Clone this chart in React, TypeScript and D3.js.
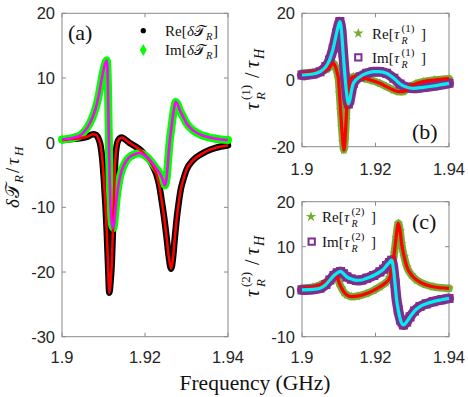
import React from 'react';
import * as d3 from 'd3';

// ---------- Data ----------
const xTicks = [1.9, 1.92, 1.94];
const aYTicks = [-30, -20, -10, 0, 10, 20];
const bYTicks = [-20, 0, 20];
const cYTicks = [-10, 0, 10, 20];

// Panel (a)  Re[δT_R]
const aReFreq = [1.9, 1.903, 1.906, 1.9075, 1.9082, 1.9088, 1.9093, 1.9097, 1.9101, 1.9105, 1.9108, 1.9111, 1.9114,
  1.9117, 1.912, 1.9124, 1.9128, 1.9133, 1.9138, 1.9144, 1.9152, 1.916, 1.9172, 1.919, 1.9204, 1.9212, 1.922, 1.9228,
  1.9234, 1.924, 1.9246, 1.9252, 1.9257, 1.9263, 1.9268, 1.9272, 1.9276, 1.928, 1.9286, 1.9292, 1.93, 1.9316, 1.9335,
  1.9349, 1.937, 1.94];
const aReVal = [0.4, 0.6, 0.9, 1.3, 1.2, 0.6, -0.5, -2.5, -5.8, -10, -14, -19, -23.2,
  -21.5, -18.6, -10.9, -3.2, -0.1, 0.6, 0.8, 0.5, 0.1, -0.4, -1.2, -2.2, -2.8, -3.8, -5.0,
  -6.5, -8.9, -11.5, -14.6, -17.5, -19.5, -17.5, -14.6, -12, -9.9, -7.3, -5.8, -4.2, -2.7, -1.8,
  -1.3, -0.8, -0.4];
// Panel (a)  Im[δT_R]
const aImFreq = [1.9, 1.903, 1.9043, 1.9055, 1.9067, 1.9077, 1.9084, 1.909, 1.9095, 1.9101, 1.9108, 1.9111, 1.9113,
  1.9115, 1.9117, 1.912, 1.9124, 1.9128, 1.9132, 1.9138, 1.9144, 1.9153, 1.9163, 1.9175, 1.9187, 1.92, 1.9212, 1.9225,
  1.9236, 1.9243, 1.9248, 1.9252, 1.9256, 1.9259, 1.9263, 1.9267, 1.9271, 1.9274, 1.9278, 1.9284, 1.9292, 1.93, 1.9316,
  1.9335, 1.9349, 1.937, 1.94];
const aImVal = [0.5, 0.8, 1.1, 1.8, 3.0, 4.5, 6.0, 7.8, 9.6, 11.5, 12.7, 8, 0,
  -6, -10, -12.5, -13.2, -11, -8.4, -5.8, -4.3, -3.0, -2.2, -1.8, -1.6, -2.0, -2.7, -3.8,
  -4.8, -5.7, -6.6, -5.5, -2.5, -0.1, 2.0, 4.0, 5.6, 6.3, 6.0, 5.0, 4.0, 3.0, 1.9,
  1.2, 0.9, 0.6, 0.4];

// Panel (b)  Re[τ_R^(1)]
const bReFreq = [1.9, 1.903, 1.9049, 1.9067, 1.9078, 1.9085, 1.9091, 1.9096, 1.9099, 1.9102, 1.9105, 1.9108, 1.9111,
  1.9114, 1.9117, 1.912, 1.9123, 1.9127, 1.9132, 1.914, 1.915, 1.9176, 1.9195, 1.9212, 1.923, 1.9249, 1.9265, 1.9276,
  1.9285, 1.9294, 1.931, 1.933, 1.936, 1.94];
const bReVal = [2.0, 2.3, 2.6, 3.2, 4.2, 5.0, 4.0, 2.0, 0.5, -4, -9, -14, -18.5,
  -21, -18, -12, -6, -2, 0.3, 1.0, 0.9, 0.3, -0.3, -1.0, -2.0, -3.0, -3.5, -3.5,
  -2.8, -2.0, -1.1, -0.5, 0.0, 0.4];
// Panel (b)  Im[τ_R^(1)]
const bImFreq = [1.9, 1.903, 1.9049, 1.9065, 1.9075, 1.9085, 1.9094, 1.9103, 1.9108, 1.9112, 1.9117, 1.9122, 1.9126,
  1.913, 1.9135, 1.914, 1.9158, 1.9176, 1.9194, 1.921, 1.923, 1.925, 1.9267, 1.9285, 1.9303, 1.933, 1.9357, 1.94];
const bImVal = [1.5, 1.8, 2.5, 4.0, 6.0, 9.5, 14, 17.5, 14, 8, 1, -4.5, -7.2,
  -6, -3, -1, 1.0, 2.0, 2.5, 2.5, 2.0, 0.5, -1.2, -2.2, -2.5, -2.2, -1.8, -1.0];

// Panel (c)  Re[τ_R^(2)]
const cReFreq = [1.9, 1.903, 1.9049, 1.9065, 1.9076, 1.9085, 1.9091, 1.9096, 1.9101, 1.9108, 1.9115, 1.9122, 1.9135,
  1.915, 1.9176, 1.9195, 1.9212, 1.9228, 1.9238, 1.9245, 1.9251, 1.9256, 1.9262, 1.9267, 1.9271, 1.9278, 1.9285, 1.9298,
  1.9312, 1.9335, 1.9357, 1.94];
const cReVal = [0.75, 1.0, 1.5, 2.1, 2.7, 3.5, 3.8, 3.2, 2.0, 0.75, -0.2, -0.7, -1.1,
  -1.0, -0.4, 0.3, 1.1, 2.0, 3.0, 5.0, 8.5, 12, 15.2, 13.5, 10.7, 7.8, 5.6, 3.7,
  2.6, 1.6, 1.1, 0.75];
// Panel (c)  Im[τ_R^(2)]
const cImFreq = [1.9, 1.903, 1.9049, 1.9065, 1.9076, 1.9087, 1.9096, 1.9105, 1.9113, 1.9122, 1.9135, 1.9149, 1.9163,
  1.9176, 1.9195, 1.9212, 1.9222, 1.923, 1.9238, 1.9244, 1.9249, 1.9253, 1.9257, 1.9262, 1.9268, 1.9276, 1.9285, 1.9294,
  1.9306, 1.9321, 1.9338, 1.9357, 1.938, 1.94];
const cImVal = [0.4, 0.5, 0.75, 1.6, 2.6, 3.6, 4.2, 4.5, 4.0, 3.3, 2.8, 2.5, 2.6,
  3.0, 3.6, 4.4, 5.0, 5.8, 6.5, 7.0, 5.0, 1.9, -1.5, -4.1, -6.3, -7.4, -6.7, -5.6,
  -4.3, -3.3, -2.7, -2.2, -1.8, -1.5];

// ---------- Styling ----------
const AXIS = '#8a8a8a';
const TXT = '#262626';
const SANS = "'Liberation Sans', Arial, Helvetica, sans-serif";
const SERIF = "'Liberation Serif', 'Times New Roman', serif";

type Seg = { t: string; x: number; y: number; s: number; i?: boolean };

function Lbl({ segs, transform }: { segs: Seg[]; transform?: string }) {
  return (
    <g transform={transform}>
      {segs.map((g, k) => (
        <text key={k} x={g.x} y={g.y} fontSize={g.s} fontStyle={g.i ? 'italic' : 'normal'}
          fontFamily={SERIF} fill="#111">{g.t}</text>
      ))}
    </g>
  );
}

type Ser = { f: number[]; v: number[] };

function Axes({ x, y, yTicks, xLabelY }: any) {
  const [x0, x1] = x.range();
  const [yb, yt] = y.range();
  const tl = 4;
  return (
    <g>
      <rect x={x0} y={yt} width={x1 - x0} height={yb - yt} fill="none" stroke={AXIS} strokeWidth={1} />
      {xTicks.map((t) => (
        <g key={'x' + t}>
          <line x1={x(t)} x2={x(t)} y1={yb} y2={yb - tl} stroke={AXIS} />
          <line x1={x(t)} x2={x(t)} y1={yt} y2={yt + tl} stroke={AXIS} />
          <text x={x(t)} y={xLabelY} textAnchor="middle" fontFamily={SANS} fontSize={16.5} fill={TXT}>{String(t)}</text>
        </g>
      ))}
      {yTicks.map((t: number) => (
        <g key={'y' + t}>
          <line x1={x0} x2={x0 + tl} y1={y(t)} y2={y(t)} stroke={AXIS} />
          <line x1={x1} x2={x1 - tl} y1={y(t)} y2={y(t)} stroke={AXIS} />
          <text x={x0 - 7} y={y(t)} dy="0.36em" textAnchor="end" fontFamily={SANS} fontSize={16.5} fill={TXT}>{String(t)}</text>
        </g>
      ))}
    </g>
  );
}

function pathOf(x: any, y: any, s: Ser) {
  const gen = d3.line<number>()
    .x((_, i) => x(s.f[i]))
    .y((d) => y(d))
    .curve(d3.curveMonotoneX);
  return gen(s.v) || '';
}

function Band({ x, y, s, color, width, symbol, size, fill, stroke, sw }: any) {
  const sym = d3.symbol().type(symbol).size(size)();
  return (
    <g>
      <path d={pathOf(x, y, s)} fill="none" stroke={color} strokeWidth={width} strokeLinejoin="round" strokeLinecap="round" />
      {s.f.map((f: number, i: number) => (
        <path key={i} d={sym || ''} transform={`translate(${x(f)},${y(s.v[i])})`} fill={fill} stroke={stroke} strokeWidth={sw} />
      ))}
    </g>
  );
}

function Line({ x, y, s, color, width }: any) {
  return <path d={pathOf(x, y, s)} fill="none" stroke={color} strokeWidth={width} strokeLinejoin="round" />;
}

function Marker({ cx, cy, symbol, size, fill, stroke, sw }: any) {
  const sym = d3.symbol().type(symbol).size(size)();
  return <path d={sym || ''} transform={`translate(${cx},${cy})`} fill={fill} stroke={stroke} strokeWidth={sw} />;
}

export default function App() {
  const xa = d3.scaleLinear().domain([1.9, 1.94]).range([62, 228]);
  const ya = d3.scaleLinear().domain([-30, 20]).range([336.7, 13.3]);
  const xb = d3.scaleLinear().domain([1.9, 1.94]).range([302, 449]);
  const yb = d3.scaleLinear().domain([-20, 20]).range([146.7, 13.3]);
  const yc = d3.scaleLinear().domain([-10, 20]).range([336.7, 201.7]);

  const aRe = { f: aReFreq, v: aReVal };
  const aIm = { f: aImFreq, v: aImVal };
  const bRe = { f: bReFreq, v: bReVal };
  const bIm = { f: bImFreq, v: bImVal };
  const cRe = { f: cReFreq, v: cReVal };
  const cIm = { f: cImFreq, v: cImVal };

  const GREEN = '#00ff00', MAG = '#ff00ff', RED = '#ff0000', STAR = '#77ac30', PURP = '#7e2f8e', CYAN = '#00f0f0';

  const tauLegend = (x0: number, yb0: number, pre: string, n: string): Seg[] => [
    { t: pre + '[', x: x0, y: yb0, s: 15 },
    { t: 'τ', x: x0 + 22, y: yb0, s: 15, i: true },
    { t: '(' + n + ')', x: x0 + 29.5, y: yb0 - 7, s: 11 },
    { t: 'R', x: x0 + 29.5, y: yb0 + 4.5, s: 10, i: true },
    { t: ']', x: x0 + 49, y: yb0, s: 15 },
  ];
  const deltaLegend = (x0: number, yb0: number, pre: string): Seg[] => [
    { t: pre + '[', x: x0, y: yb0, s: 15 },
    { t: 'δ', x: x0 + 22, y: yb0, s: 15, i: true },
    { t: '𝒯', x: x0 + 29, y: yb0, s: 15 },
    { t: 'R', x: x0 + 41, y: yb0 + 3.5, s: 10.5, i: true },
    { t: ']', x: x0 + 48, y: yb0, s: 15 },
  ];
  const tauYLabel = (n: string): Seg[] => [
    { t: 'τ', x: 0, y: 0, s: 20, i: true },
    { t: '(' + n + ')', x: 10, y: -9, s: 13 },
    { t: 'R', x: 10, y: 6, s: 13, i: true },
    { t: '/', x: 32, y: 0, s: 20 },
    { t: 'τ', x: 42, y: 0, s: 20, i: true },
    { t: 'H', x: 51, y: 4.5, s: 14, i: true },
  ];
  const deltaYLabel: Seg[] = [
    { t: 'δ', x: 0, y: 0, s: 19, i: true },
    { t: '𝒯', x: 10, y: 0, s: 19 },
    { t: 'R', x: 25, y: 4, s: 13, i: true },
    { t: '/', x: 35, y: 0, s: 19 },
    { t: 'τ', x: 43, y: 0, s: 19, i: true },
    { t: 'H', x: 52, y: 4, s: 13, i: true },
  ];

  return (
    <svg width={468} height={397} style={{ position: 'absolute', left: 0, top: 0, background: '#fff' }}>
      <rect width={468} height={397} fill="#fff" />
      {/* Panel (a) */}
      <Axes x={xa} y={ya} yTicks={aYTicks} xLabelY={363} />
      <Band x={xa} y={ya} s={aRe} color="#000" width={6.5} symbol={d3.symbolCircle} size={13} fill="#000" stroke="none" sw={0} />
      <Band x={xa} y={ya} s={aIm} color={GREEN} width={8} symbol={d3.symbolDiamond} size={26} fill={GREEN} stroke="none" sw={0} />
      <Line x={xa} y={ya} s={aRe} color={RED} width={2.6} />
      <Line x={xa} y={ya} s={aIm} color={MAG} width={2.6} />
      <Lbl segs={[{ t: '(a)', x: 68, y: 40, s: 22 }]} />
      <Marker cx={143.3} cy={30.7} symbol={d3.symbolCircle} size={22} fill="#000" stroke="none" sw={0} />
      <Marker cx={143.3} cy={50} symbol={d3.symbolDiamond} size={40} fill={GREEN} stroke="none" sw={0} />
      <Lbl segs={deltaLegend(165, 36, 'Re')} />
      <Lbl segs={deltaLegend(165, 55, 'Im')} />
      <Lbl segs={deltaYLabel} transform="translate(19,208) rotate(-90)" />

      {/* Panel (b) */}
      <Axes x={xb} y={yb} yTicks={bYTicks} xLabelY={175} />
      <Band x={xb} y={yb} s={bRe} color={STAR} width={7.5} symbol={d3.symbolStar} size={30} fill={STAR} stroke="none" sw={0} />
      <Band x={xb} y={yb} s={bIm} color={PURP} width={10} symbol={d3.symbolSquare} size={50} fill="none" stroke={PURP} sw={2} />
      <Line x={xb} y={yb} s={bRe} color={RED} width={3.2} />
      <Line x={xb} y={yb} s={bIm} color={CYAN} width={3.2} />
      <Lbl segs={[{ t: '(b)', x: 412, y: 139, s: 22 }]} />
      <Marker cx={358.3} cy={33.3} symbol={d3.symbolStar} size={34} fill={STAR} stroke="none" sw={0} />
      <Marker cx={358.3} cy={57.3} symbol={d3.symbolSquare} size={40} fill="none" stroke={PURP} sw={2} />
      <Lbl segs={tauLegend(372, 39, 'Re', '1')} />
      <Lbl segs={tauLegend(372, 63, 'Im', '1')} />
      <Lbl segs={tauYLabel('1')} transform="translate(259,110) rotate(-90)" />

      {/* Panel (c) */}
      <Axes x={xb} y={yc} yTicks={cYTicks} xLabelY={363} />
      <Band x={xb} y={yc} s={cRe} color={STAR} width={7.5} symbol={d3.symbolStar} size={30} fill={STAR} stroke="none" sw={0} />
      <Band x={xb} y={yc} s={cIm} color={PURP} width={10} symbol={d3.symbolSquare} size={50} fill="none" stroke={PURP} sw={2} />
      <Line x={xb} y={yc} s={cRe} color={RED} width={3.2} />
      <Line x={xb} y={yc} s={cIm} color={CYAN} width={3.2} />
      <Lbl segs={[{ t: '(c)', x: 412, y: 229, s: 22 }]} />
      <Marker cx={311} cy={216.7} symbol={d3.symbolStar} size={34} fill={STAR} stroke="none" sw={0} />
      <Marker cx={311.7} cy={241.7} symbol={d3.symbolSquare} size={40} fill="none" stroke={PURP} sw={2} />
      <Lbl segs={tauLegend(322, 222, 'Re', '2')} />
      <Lbl segs={tauLegend(322, 247, 'Im', '2')} />
      <Lbl segs={tauYLabel('2')} transform="translate(259,297) rotate(-90)" />

      {/* Common x label */}
      <text x={255} y={390} textAnchor="middle" fontFamily={SERIF} fontSize={21.5} fill="#111">Frequency (GHz)</text>
    </svg>
  );
}
